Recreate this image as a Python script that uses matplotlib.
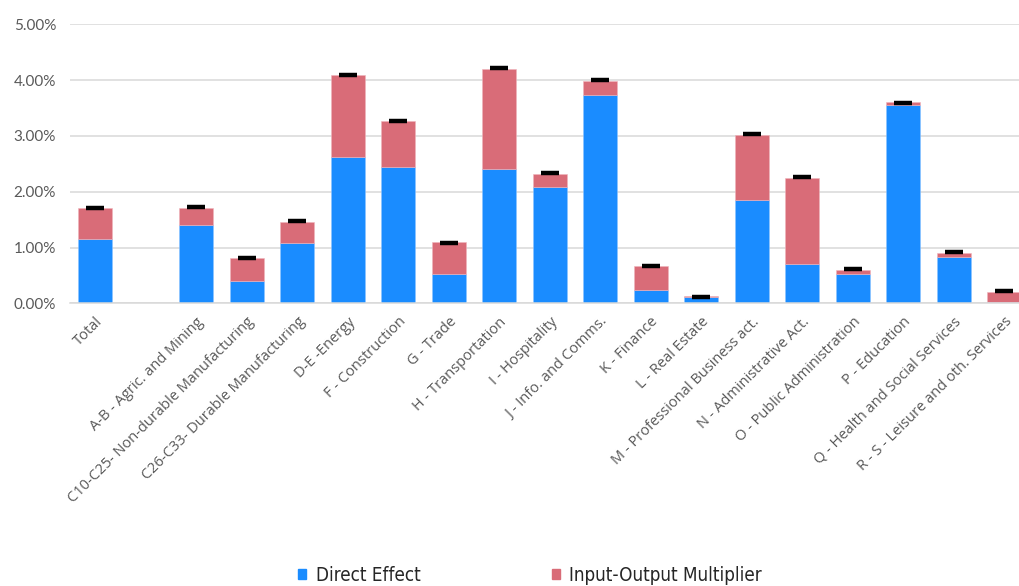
import matplotlib.pyplot as plt
import numpy as np
from matplotlib.patches import Patch
from matplotlib.ticker import PercentFormatter

# Категорії (порожній слот між Total та секторами)
categories = [
    "Total", "",
    "A-B - Agric. and Mining",
    "C10-C25- Non-durable Manufacturing",
    "C26-C33- Durable Manufacturing",
    "D-E -Energy",
    "F - Construction",
    "G - Trade",
    "H - Transportation",
    "I - Hospitality",
    "J - Info. and Comms.",
    "K - Finance",
    "L - Real Estate",
    "M - Professional Business act.",
    "N - Administrative Act.",
    "O - Public Administration",
    "P - Education",
    "Q - Health and Social Services",
    "R - S - Leisure and oth. Services",
]

# Значення у відсотках (nan = порожній слот)
direct_effect = [1.16, np.nan, 1.41, 0.40, 1.08, 2.62, 2.44, 0.53, 2.40, 2.09,
                 3.73, 0.23, 0.11, 1.86, 0.71, 0.53, 3.55, 0.83, 0.03]
io_multiplier = [0.55, np.nan, 0.30, 0.41, 0.38, 1.48, 0.83, 0.56, 1.80, 0.22,
                 0.25, 0.43, 0.02, 1.15, 1.53, 0.07, 0.05, 0.08, 0.17]
total_marker = [1.70, np.nan, 1.73, 0.82, 1.48, 4.10, 3.26, 1.08, 4.22, 2.33,
                4.00, 0.67, 0.12, 3.04, 2.26, 0.62, 3.59, 0.92, 0.22]

BLUE = '#1a8cff'
PINK = '#d96c78'


def create_chart():
    fig = plt.figure(figsize=(10.19, 5.86), dpi=100)
    ax = fig.add_axes([0.0687, 0.4824, 0.9416, 0.4761])

    x = np.arange(len(categories))
    direct = np.array(direct_effect) / 100
    mult = np.array(io_multiplier) / 100
    marks = np.array(total_marker) / 100

    ax.bar(x, direct, width=0.67, color=BLUE, edgecolor='#8cc4ff', linewidth=0.4, zorder=2)
    ax.bar(x, mult, bottom=direct, width=0.67, color=PINK, edgecolor='#f0b4bb',
           linewidth=0.4, zorder=2)
    ax.plot(x, marks, linestyle='none', marker='_', markersize=13,
            markeredgewidth=3.2, color='black', zorder=3)

    # Осі та сітка
    ax.set_xlim(-0.5, len(categories) - 0.5)
    ax.set_ylim(0, 0.05)
    ax.set_yticks(np.arange(0, 0.051, 0.01))
    ax.yaxis.set_major_formatter(PercentFormatter(1.0, decimals=2))
    ax.grid(axis='y', color='#d9d9d9', linewidth=1.1, zorder=0)
    ax.set_axisbelow(True)
    for side in ['top', 'right', 'left']:
        ax.spines[side].set_visible(False)
    ax.spines['bottom'].set_color('#d9d9d9')
    ax.spines['bottom'].set_linewidth(1.1)
    ax.tick_params(axis='both', length=0, colors='#595959', labelsize=11)
    ax.tick_params(axis='y', pad=10)
    for lbl in ax.get_yticklabels():
        lbl.set_fontfamily(['Lato', 'DejaVu Sans'])

    ax.set_xticks(x)
    ax.set_xticklabels(categories, rotation=45, ha='right', rotation_mode='anchor',
                       family=['Open Sans', 'DejaVu Sans'], fontsize=10.5, color='#595959')
    ax.tick_params(axis='x', pad=8)

    # Легенда внизу
    handles = [Patch(color=BLUE), Patch(color=PINK)]
    fig.legend(handles, ['Direct Effect', 'Input-Output Multiplier'], loc='center',
               bbox_to_anchor=(0.52, 0.018), ncol=2, frameon=False,
               handlelength=0.45, handleheight=0.45, handletextpad=0.5,
               columnspacing=7.0, labelcolor='#262626',
               prop={'family': ['DejaVu Sans'], 'stretch': 'condensed', 'size': 13.5})

    plt.savefig('out.png', dpi=100)


if __name__ == "__main__":
    create_chart()
